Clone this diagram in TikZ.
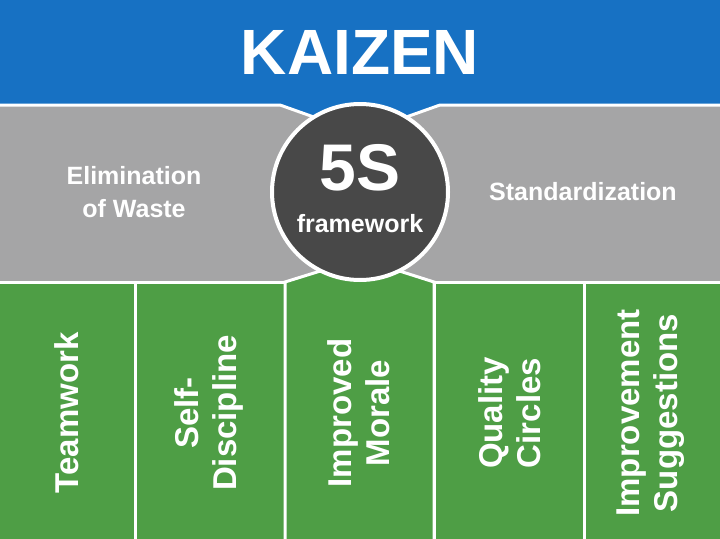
\documentclass[tikz,border=0pt]{standalone}
\usepackage{fontspec}
\setmainfont{Liberation Sans}
\definecolor{kzblue}{HTML}{1771C3}
\definecolor{kzgray}{HTML}{A5A5A6}
\definecolor{kzdark}{HTML}{484848}
\definecolor{kzgreen}{HTML}{4E9E45}
\begin{document}
\begin{tikzpicture}[x=1pt,y=-1pt,
    lbl/.style={text=white,inner sep=0pt,align=center},
    colbox/.style={fill=kzgreen,draw=white,line width=3pt},
    collbl/.style={lbl,rotate=90,font=\bfseries\fontsize{33}{38}\selectfont}]
    \useasboundingbox (0,0) rectangle (720,538);
    \def\ycol{413} % tam chu cac cot
    % nen xam va dai xanh
    \fill[kzgray] (0,105) rectangle (720,282);
    \fill[kzblue] (0,0)--(720,0)--(720,105)--(440,105)--(395,121)--(325,121)--(280,105)--(0,105)--cycle;
    \draw[white,line width=3pt] (-3,105)--(280,105)--(325,121) (395,121)--(440,105)--(723,105);
    % cac cot
    \draw[colbox] (-3,282) rectangle (135,541);
    \draw[colbox] (135,282) rectangle (285,541);
    \draw[colbox] (285,282)--(330,268)--(390,268)--(434,282)--(434,541)--(285,541)--cycle;
    \draw[colbox] (434,282) rectangle (584,541);
    \draw[colbox] (584,282) rectangle (723,541);
    % vong tron
    \node[circle,fill=kzdark,draw=white,line width=4pt,minimum size=176pt,inner sep=0pt] (ring) at (360,192) {};
    \node[lbl,font=\bfseries\fontsize{64}{70}\selectfont] (kaizen) at (360,52) {KAIZEN};
    \node[lbl,font=\bfseries\fontsize{66}{70}\selectfont,anchor=base] (fives) at (360,190) {5S};
    \node[lbl,font=\bfseries\fontsize{25}{30}\selectfont,anchor=base] (frame) at (360,232) {framework};
    \node[lbl,font=\bfseries\fontsize{25}{33}\selectfont] (waste) at (134,192) {Elimination\\of Waste};
    \node[lbl,font=\bfseries\fontsize{25}{30}\selectfont] (standard) at (583,192) {Standardization};
    \node[collbl] (team) at (67,\ycol) {Teamwork};
    \node[collbl] (discipline) at (209,\ycol) {Self-\\Discipline};
    \node[collbl] (morale) at (359,\ycol) {Improved\\Morale};
    \node[collbl] (quality) at (510,\ycol) {Quality\\Circles};
    \node[collbl] (suggest) at (651,\ycol) {Improvement\\Suggestions};
\end{tikzpicture}
\end{document}
